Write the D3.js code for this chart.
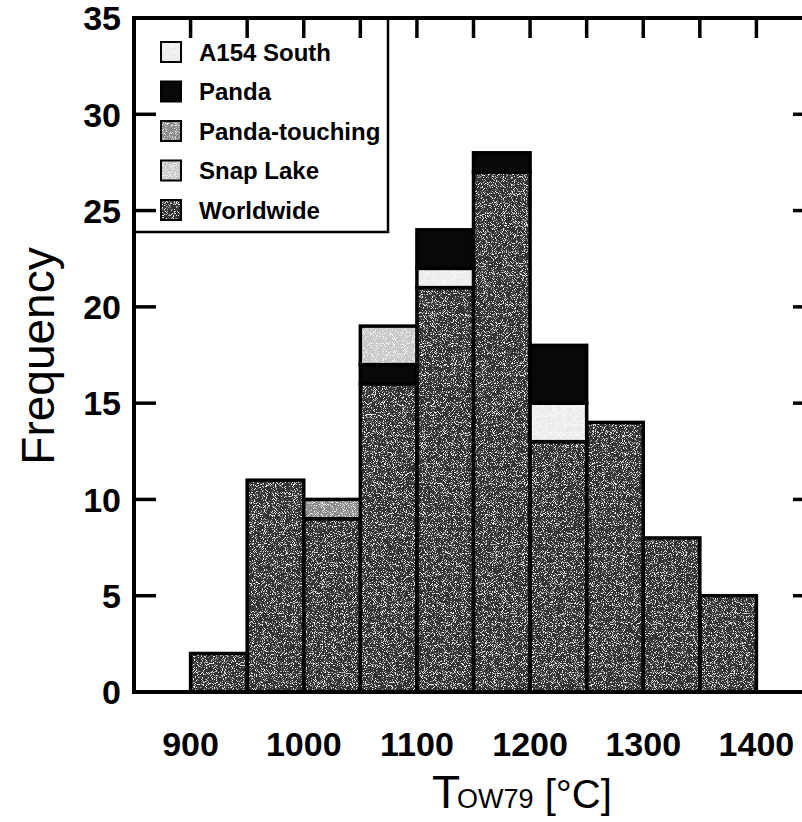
<!DOCTYPE html>
<html>
<head>
<meta charset="utf-8">
<script src="https://cdn.jsdelivr.net/npm/d3@7"></script>
<style>
html,body{margin:0;padding:0;background:#fff;}
svg{display:block;}
</style>
</head>
<body>
<svg id="chart" width="802" height="822"></svg>
<script>
// ---- data ----
const binStarts = [900, 950, 1000, 1050, 1100, 1150, 1200, 1250, 1300, 1350];
const binWidth = 50;
const worldwide = [2, 11, 9, 16, 21, 27, 13, 14, 8, 5];
const pandaTouching = [0, 0, 1, 0, 0, 0, 0, 0, 0, 0];
const a154South = [0, 0, 0, 0, 1, 0, 2, 0, 0, 0];
const panda = [0, 0, 0, 1, 2, 1, 3, 0, 0, 0];
const snapLake = [0, 0, 0, 2, 0, 0, 0, 0, 0, 0];
const seriesNames = ["Worldwide", "Panda-touching", "A154 South", "Panda", "Snap Lake"];
const legendNames = ["A154 South", "Panda", "Panda-touching", "Snap Lake", "Worldwide"];
const xTickLabels = [900, 1000, 1100, 1200, 1300, 1400];
const yTickLabels = [0, 5, 10, 15, 20, 25, 30, 35];
const xLabelMain = "T", xLabelSub = "OW79", xLabelUnit = " [°C]";
const yLabel = "Frequency";

const colors = {
  "Worldwide": "#333333",
  "Snap Lake": "#c8c8c8",
  "A154 South": "#ececec",
  "Panda": "#080808",
  "Panda-touching": "#8a8a8a"
};

const table = binStarts.map((b, i) => ({
  bin: b,
  "Worldwide": worldwide[i],
  "Snap Lake": snapLake[i],
  "A154 South": a154South[i],
  "Panda": panda[i],
  "Panda-touching": pandaTouching[i]
}));

// ---- layout ----
const svg = d3.select("#chart");
const x = d3.scaleLinear().domain([850, 1450]).range([134, 813]);
const y = d3.scaleLinear().domain([0, 35]).range([692, 18]);
const FONT = "Liberation Sans, Arial, Helvetica, sans-serif";

// speckle filter
const defs = svg.append("defs");
const f = defs.append("filter").attr("id", "speckle")
  .attr("x", 0).attr("y", 0).attr("width", 1).attr("height", 1);
f.append("feTurbulence").attr("type", "fractalNoise").attr("baseFrequency", 1.1)
  .attr("numOctaves", 1).attr("seed", 7).attr("result", "noise");
f.append("feColorMatrix").attr("in", "noise").attr("type", "matrix")
  .attr("values", "0 0 0 0 1  0 0 0 0 1  0 0 0 0 1  8 0 0 0 -4.4").attr("result", "dots");
f.append("feComposite").attr("in", "dots").attr("in2", "SourceGraphic").attr("operator", "in").attr("result", "dotsIn");
const fm = f.append("feMerge");
fm.append("feMergeNode").attr("in", "SourceGraphic");
fm.append("feMergeNode").attr("in", "dotsIn");

const stacked = d3.stack().keys(seriesNames)(table);

const barsG = svg.append("g");
stacked.forEach(layer => {
  const segs = layer.filter(d => d[1] - d[0] > 0);
  const g = barsG.append("g");
  g.selectAll("rect.fill").data(segs).join("rect").attr("class", "fill")
    .attr("x", d => x(d.data.bin))
    .attr("width", d => x(d.data.bin + binWidth) - x(d.data.bin))
    .attr("y", d => y(d[1]))
    .attr("height", d => y(d[0]) - y(d[1]))
    .attr("fill", colors[layer.key])
    .attr("filter", layer.key === "Panda" ? null : "url(#speckle)");
  g.selectAll("rect.edge").data(segs).join("rect").attr("class", "edge")
    .attr("x", d => x(d.data.bin))
    .attr("width", d => x(d.data.bin + binWidth) - x(d.data.bin))
    .attr("y", d => y(d[1]))
    .attr("height", d => y(d[0]) - y(d[1]))
    .attr("fill", "none")
    .attr("stroke", "#000")
    .attr("stroke-width", 3.5);
});

// ---- legend ----
const lg = svg.append("g");
lg.append("rect").attr("x", 134).attr("y", 18).attr("width", 254).attr("height", 214)
  .attr("fill", "#fff").attr("stroke", "#000").attr("stroke-width", 2.5);
const legY = d3.scalePoint().domain(legendNames).range([52, 210]);
legendNames.forEach(n => {
  lg.append("rect").attr("x", 161).attr("y", legY(n) - 10).attr("width", 20).attr("height", 20)
    .attr("fill", colors[n])
    .attr("filter", n === "Panda" ? null : "url(#speckle)");
  lg.append("rect").attr("x", 161).attr("y", legY(n) - 10).attr("width", 20).attr("height", 20)
    .attr("fill", "none").attr("stroke", "#000").attr("stroke-width", 2);
  lg.append("text").attr("x", 199).attr("y", legY(n)).attr("dy", "0.36em")
    .attr("font-family", FONT).attr("font-weight", "bold")
    .attr("font-size", 24).attr("fill", "#000").text(n);
});

// ---- axes / frame ----
const ax = svg.append("g");
const minorX = d3.range(900, 1401, 50);
ax.selectAll("line.tt").data(minorX).join("line").attr("class", "tt")
  .attr("x1", d => x(d)).attr("x2", d => x(d)).attr("y1", y(35)).attr("y2", y(35) + 20)
  .attr("stroke", "#000").attr("stroke-width", 3.5);
ax.selectAll("line.lt").data(yTickLabels).join("line").attr("class", "lt")
  .attr("x1", x(850)).attr("x2", x(850) + 22).attr("y1", d => y(d)).attr("y2", d => y(d))
  .attr("stroke", "#000").attr("stroke-width", 3.5);
ax.selectAll("line.rt").data(yTickLabels).join("line").attr("class", "rt")
  .attr("x1", x(1450)).attr("x2", x(1450) - 20).attr("y1", d => y(d)).attr("y2", d => y(d))
  .attr("stroke", "#000").attr("stroke-width", 3.5);
ax.append("rect").attr("x", x(850)).attr("y", y(35)).attr("width", x(1450) - x(850)).attr("height", y(0) - y(35))
  .attr("fill", "none").attr("stroke", "#000").attr("stroke-width", 4);

// tick labels
svg.append("g").selectAll("text").data(xTickLabels).join("text")
  .attr("x", d => x(d)).attr("y", 744).attr("dy", "0.36em").attr("text-anchor", "middle")
  .attr("font-family", FONT).attr("font-weight", "bold")
  .attr("font-size", 34).attr("fill", "#000").text(d => d);
svg.append("g").selectAll("text").data(yTickLabels).join("text")
  .attr("x", 121).attr("y", d => y(d)).attr("dy", "0.36em").attr("text-anchor", "end")
  .attr("font-family", FONT).attr("font-weight", "bold")
  .attr("font-size", 34).attr("fill", "#000").text(d => d);

// axis labels
svg.append("text").attr("transform", "translate(54,356) rotate(-90)").attr("text-anchor", "middle")
  .attr("font-family", FONT).attr("font-size", 46).attr("fill", "#000").text(yLabel);
const xl = svg.append("text").attr("x", 432).attr("y", 808)
  .attr("font-family", FONT).attr("fill", "#000");
xl.append("tspan").attr("font-size", 46).text(xLabelMain);
xl.append("tspan").attr("font-size", 27).attr("dx", -3).text(xLabelSub);
xl.append("tspan").attr("font-size", 40).text(xLabelUnit);
</script>
</body>
</html>
